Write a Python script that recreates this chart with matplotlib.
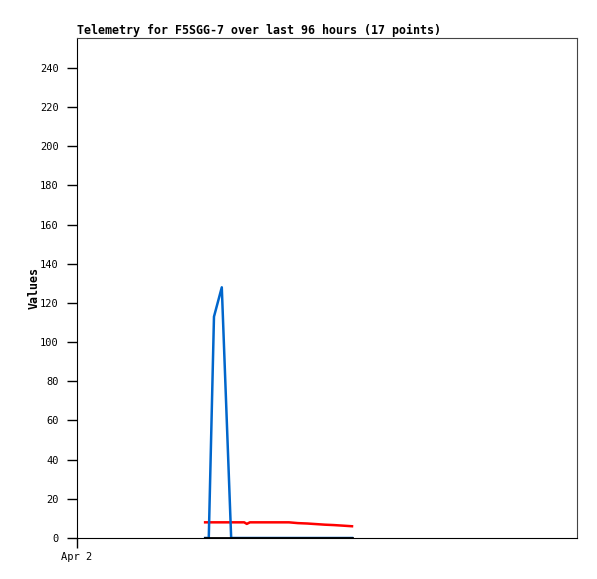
import matplotlib
matplotlib.use("Agg")
import matplotlib.pyplot as plt

# hours since Apr 2 00:00 for the 17 telemetry points
hours = [24.6, 25.3, 26.3, 27.8, 29.6, 32.1, 32.6, 33.2, 36.7,
         40.7, 42.4, 44.2, 45.9, 47.6, 49.3, 51.1, 52.8]
# three telemetry channels
blue_vals = [0, 0, 113, 128, 0, 0, 0, 0, 0, 0, 0, 0, 0, 0, 0, 0, 0]
red_vals = [8, 8, 8, 8, 8, 8, 7.2, 8, 8, 8, 7.6, 7.4, 7.1, 6.8, 6.6, 6.3, 6.0]
black_vals = [0] * 17

y_ticks = list(range(0, 241, 20))
x_label = "Apr 2"

mono = "DejaVu Sans Mono"

fig = plt.figure(figsize=(5.97, 5.79), dpi=100)
ax = fig.add_axes([77 / 597, 41 / 579, 500 / 597, 500 / 579])

ax.plot(hours, red_vals, color="#ff0000", lw=1.8)
ax.plot(hours, blue_vals, color="#0066cc", lw=1.8)
ax.plot(hours, black_vals, color="black", lw=2)

ax.set_xlim(0, 96)
ax.set_ylim(0, 255.3)
ax.set_yticks(y_ticks)
ax.set_yticklabels([str(v) for v in y_ticks], family=mono, fontsize=7.5)
ax.set_xticks([0])
ax.set_xticklabels([x_label], family=mono, fontsize=7.5)
ax.tick_params(axis="y", length=7, width=1, direction="out", pad=6)
ax.tick_params(axis="x", length=7, width=1, direction="out", pad=3)

for s in ("top", "right"):
    ax.spines[s].set_color("#444444")
for s in ("left", "bottom"):
    ax.spines[s].set_color("black")

ax.set_ylabel("Values", family=mono, fontsize=8.4, fontweight="bold", labelpad=0)
ax.set_title("Telemetry for F5SGG-7 over last 96 hours (17 points)",
             family=mono, fontsize=8.4, fontweight="bold", loc="left", pad=3)

fig.savefig("out.png", dpi=100)
